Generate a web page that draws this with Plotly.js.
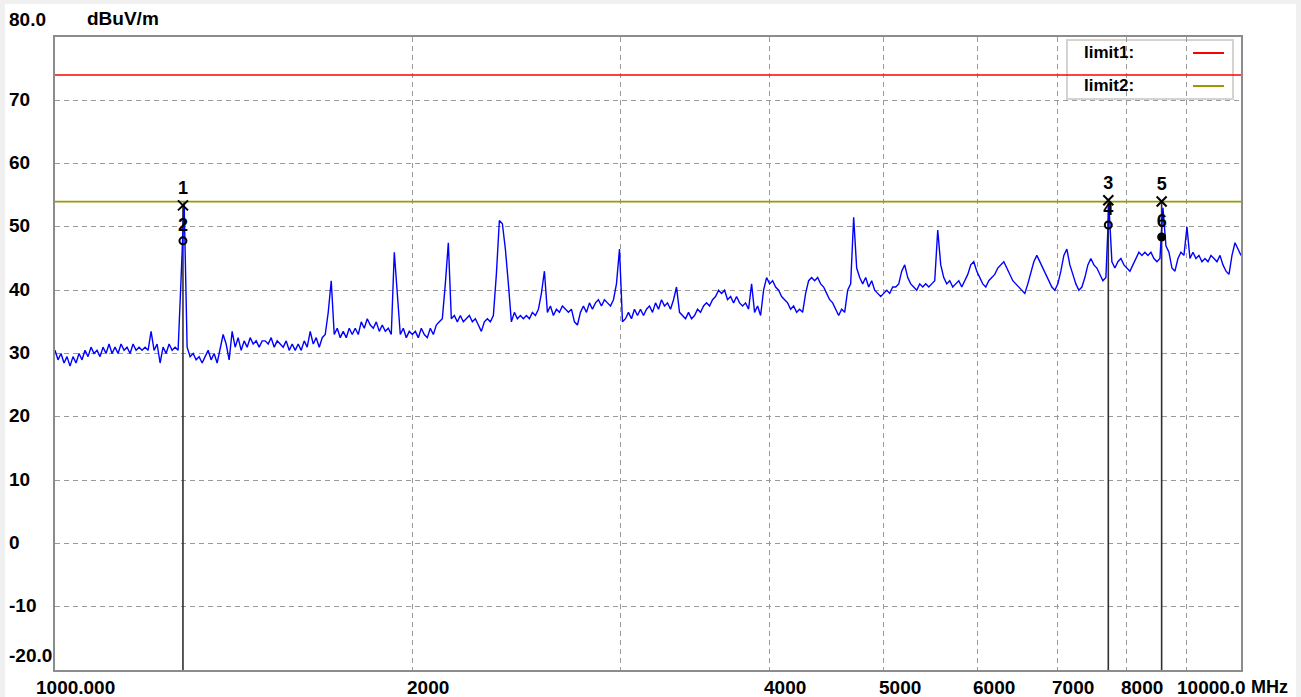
<!DOCTYPE html>
<html>
<head>
<meta charset="utf-8">
<script src="https://cdn.plot.ly/plotly-3.0.1.min.js"></script>
<style>
  html, body { margin: 0; padding: 0; background: #f0f0f0; }
  #chart { width: 1301px; height: 697px; }
</style>
</head>
<body>
<div id="chart"></div>
<script>
// ---------------- DATA ----------------
const startFreq = 1000;   // MHz
const stopFreq = 10000;   // MHz

// Measured level (dBuV/m), sweep points evenly spaced on the log frequency axis
const level = [
  30.5,29,30,28.5,29.5,28,29.5,28.5,30,29,
  30.5,29.5,31,30,30.5,29.5,31,30,31.5,30,
  31,30,31.5,30.5,31,30,31.5,30.5,31,30.5,
  31,30.5,33.5,30.5,31.5,28.5,31,30,31.5,30.5,
  31,30.5,42,54,31,29.5,30,29,29.5,28.5,
  29.5,30.5,29,30,28.5,31,33,31.5,29,33.5,
  31,32.5,30.5,32,31,32.5,31.5,32,31,32,
  32,31.5,32.5,31,32,31.5,31,32,30.5,31.5,
  30.5,31.5,30.5,32,31,33.5,31.5,32.5,31,32.5,
  33,36.5,41.5,33,34,32.5,33.5,32.5,34,33,
  34,33,35,34,35.5,34.5,34,35,33.5,34.5,
  33.5,34,33,46,39.5,33,34,32.5,33.5,33,
  33.5,32.5,34,33,32.5,34,33,34.5,35,35.5,
  41,47.5,35.5,36,35,36,35,35.5,36,35,
  35.5,34.5,33.5,35,35.5,35,36,42.5,51,50.5,
  46.5,41,35,36.5,35.5,36,35.5,36,35.5,36.5,
  36,37,39.5,43,36.5,37.5,36,37,36.5,37.5,
  37,36.5,37,35,34.5,36.5,37.5,36.5,38,37,
  38,38.5,37.5,38.5,38,37.5,38.5,41,46.5,35,
  35.5,36.5,35.5,37,36,37,36,37,37.5,36.5,
  38,37,38.5,37.5,38,37,38.5,40.5,36.5,36,
  35.5,36.5,35.5,36,37,36.5,37.5,38,37.5,38.5,
  39,40,39.5,40,38.5,39,38,39,38,37.5,
  38,37,41,36.5,37.5,36,40,42,41,41.5,
  40.5,40,39,38.5,38,37,37.5,36.5,37,36.5,
  39.5,41.5,42,41.5,42,41,40.5,39.5,38.5,38,
  37,36,37,36.5,40,41,51.5,43.5,42,41,
  42,40.5,41.5,40,39.5,39,39.5,40,39.5,40.5,
  40.5,41,43,44,42,41,40.5,40,41,40.5,
  41,40.5,41,41.5,49.5,44,42,41,41.5,40.5,
  41,41.5,40.5,41.5,42.5,44,44.5,43,42,41,
  40.5,41.5,42,42.5,43.5,44,44.5,43.5,42.5,41.5,
  41,40.5,40,39.5,41,43,44.5,45.5,44.5,43.5,
  42.5,41.5,40.5,40,41,43,45.5,46.5,44,42.5,
  41,40,40.5,42,44,45,44,43.5,42.5,41.5,
  42,53.5,44.5,43.5,44.5,45,44,43.5,43,44,
  45,46,45.5,46,45.5,46,45,44.5,45,53,
  47,46,43.5,43,45,46,45.5,50,45,46,
  45,45.5,44.5,45,44.5,45.5,45,44.5,45.5,44,
  43,42.5,45.5,47.5,46.5,45.5
];

// Limit lines
const limitNames = ['limit1:', 'limit2:'];
const limitLevels = [74, 54];

// Markers: peak markers (x) and second markers
const peakIds = ['1', '3', '5'];
const peakFreq = [1282, 7729, 8572];
const peakLevel = [53.4, 54.2, 54.0];
const secIds = ['2', '4', '6'];
const secFreq = [1282, 7729, 8572];
const secLevel = [47.8, 50.3, 48.4];

// Axis labels
const yLabelVals = [80, 70, 60, 50, 40, 30, 20, 10, 0, -10, -20];
const yLabelText = ['80.0', '70', '60', '50', '40', '30', '20', '10', '0', '-10', '-20.0'];
const yGridVals = [70, 60, 50, 40, 30, 20, 10, 0, -10];
const xGridVals = [2000, 3000, 4000, 5000, 6000, 7000, 8000, 9000];
const xLabelVals = [1000, 2000, 4000, 5000, 6000, 7000, 8000, 10000];
const xLabelText = ['1000.000', '2000', '4000', '5000', '6000', '7000', '8000', '10000.0'];
const yUnit = 'dBuV/m';
const xUnit = 'MHz';

// ---------------- BUILD ----------------
const n = level.length;
const freq = level.map((_, i) => startFreq * Math.pow(stopFreq / startFreq, i / (n - 1)));

const FONT = 'Liberation Sans, Arial, sans-serif';
const txtFont = (size) => ({ family: FONT, size: size, color: '#000000', weight: 700 });

// plot geometry (px) for paper-coordinate helpers
const L = 55, R = 1241, T = 37, B = 670;
const px = (x) => (x - L) / (R - L);
const py = (y) => (B - y) / (B - T);

const traces = [];

// marker vertical lines
const vx = [], vy = [];
peakFreq.forEach((f, i) => { vx.push(f, f, null); vy.push(peakLevel[i], -20, null); });
traces.push({ x: vx, y: vy, mode: 'lines', line: { color: '#303030', width: 1.6 }, hoverinfo: 'skip' });

// measured trace
traces.push({ x: freq, y: level, mode: 'lines', line: { color: '#0000ff', width: 1.4 }, hoverinfo: 'skip' });

// limit lines
const limitColors = ['#ff0000', '#9a9a00'];
limitLevels.forEach((lv, i) => {
  traces.push({ x: [startFreq, stopFreq], y: [lv, lv], mode: 'lines',
    line: { color: limitColors[i], width: 1.6 }, hoverinfo: 'skip' });
});

// peak markers
traces.push({ x: peakFreq, y: peakLevel, mode: 'markers+text', text: peakIds,
  textposition: 'top center', textfont: txtFont(18),
  marker: { symbol: 'x-thin-open', size: 10, color: '#000', line: { color: '#000', width: 2 } },
  cliponaxis: false, hoverinfo: 'skip' });

// second markers
traces.push({ x: secFreq, y: secLevel, mode: 'markers+text', text: secIds,
  textposition: 'top center', textfont: txtFont(18),
  marker: { symbol: ['circle-open', 'circle-open', 'circle'], size: 7, color: '#000', line: { color: '#000', width: 2 } },
  cliponaxis: false, hoverinfo: 'skip' });

const annotations = [];
// y labels
yLabelVals.forEach((v, i) => {
  let ys = 1;
  if (i === 0) ys = 18;
  if (i === yLabelVals.length - 1) ys = 15;
  annotations.push({ xref: 'paper', yref: 'y', x: px(7), y: v, xanchor: 'left', yanchor: 'middle',
    yshift: ys, text: yLabelText[i], showarrow: false, font: txtFont(19) });
});
annotations.push({ xref: 'paper', yref: 'paper', x: px(85), y: py(19), xanchor: 'left', yanchor: 'middle',
  text: yUnit, showarrow: false, font: txtFont(19) });
// x labels
xLabelVals.forEach((v, i) => {
  let xa = 'left', xs = -7;
  if (i === 0) { xa = 'left'; xs = -21; }
  if (i === xLabelVals.length - 1) { xa = 'right'; xs = 7; }
  annotations.push({ xref: 'x', yref: 'paper', x: Math.log10(v), y: py(687), xanchor: xa, yanchor: 'middle',
    xshift: xs, text: xLabelText[i], showarrow: false, font: txtFont(19) });
});
annotations.push({ xref: 'x', yref: 'paper', x: Math.log10(stopFreq), y: py(687), xanchor: 'left', yanchor: 'middle',
  xshift: 8, text: xUnit, showarrow: false, font: txtFont(18) });
// legend text
const legY = [53, 86];
limitNames.forEach((nm, i) => {
  annotations.push({ xref: 'paper', yref: 'paper', x: px(1082), y: py(legY[i]), xanchor: 'left', yanchor: 'middle',
    text: nm, showarrow: false, font: txtFont(17) });
});

const shapes = [
  { type: 'rect', xref: 'paper', yref: 'paper', x0: px(5), x1: px(1296), y0: py(705), y1: py(4),
    fillcolor: '#ffffff', line: { width: 0 }, layer: 'below' },
  { type: 'rect', xref: 'paper', yref: 'paper', x0: px(1067), x1: px(1233), y0: py(99), y1: py(40),
    fillcolor: '#ffffff', line: { color: '#d6d2ce', width: 2 }, layer: 'between' }
];
limitNames.forEach((nm, i) => {
  shapes.push({ type: 'line', xref: 'paper', yref: 'paper', x0: px(1193), x1: px(1224), y0: py(legY[i]), y1: py(legY[i]),
    line: { color: limitColors[i], width: 2 }, layer: 'above' });
});

const axisCommon = {
  showgrid: true, gridcolor: '#9a9a9a', gridwidth: 1, griddash: '5px,4px',
  showline: true, linecolor: '#8c8c8c', linewidth: 2, mirror: true,
  zeroline: false, showticklabels: false, ticks: '', fixedrange: true
};

const layout = {
  width: 1301, height: 697,
  margin: { l: L, r: 1301 - R, t: T, b: 697 - B, pad: 0 },
  paper_bgcolor: '#f0f0f0', plot_bgcolor: '#ffffff',
  showlegend: false,
  xaxis: Object.assign({ type: 'log', range: [Math.log10(startFreq), Math.log10(stopFreq)], tickvals: xGridVals }, axisCommon),
  yaxis: Object.assign({ range: [-20, 80], tickvals: yGridVals }, axisCommon),
  annotations: annotations,
  shapes: shapes
};

Plotly.newPlot('chart', traces, layout, { staticPlot: true, displayModeBar: false });
</script>
</body>
</html>
